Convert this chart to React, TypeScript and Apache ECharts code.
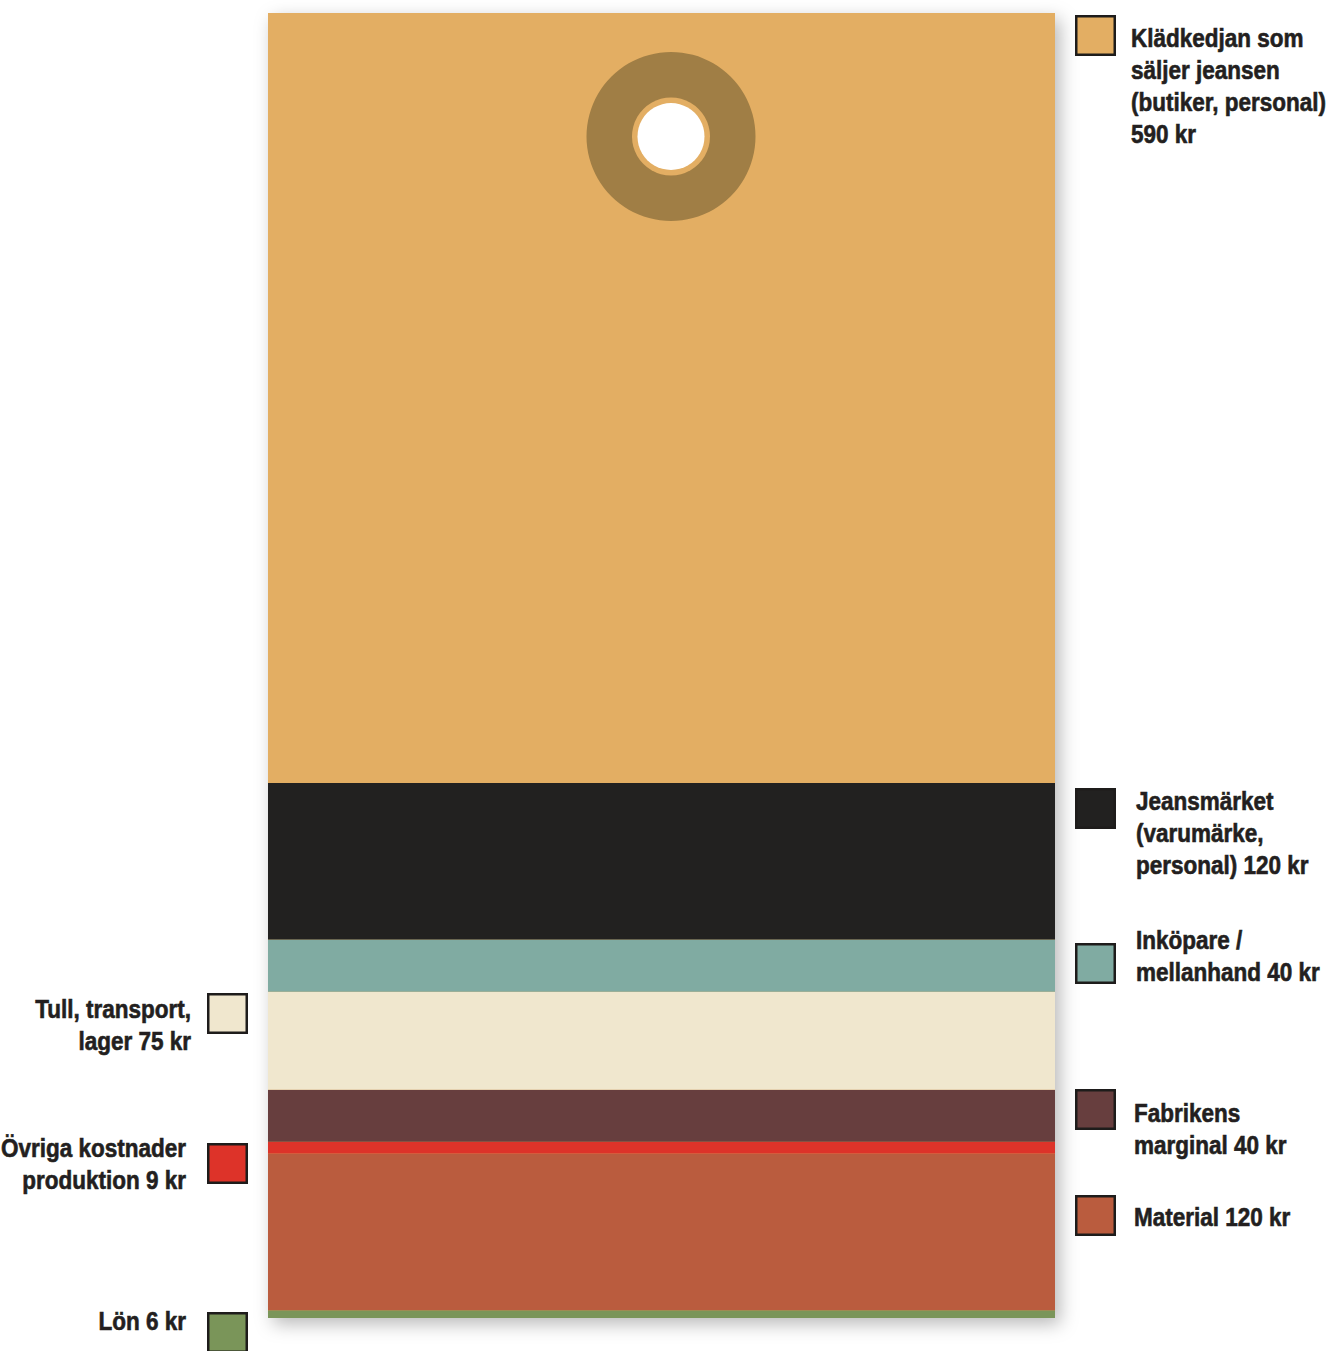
import React, { useEffect, useRef } from "react";
import * as echarts from "echarts";

// Cost breakdown of a pair of jeans (kr), stacked bottom → top
const categories = [
  "Lön",
  "Material",
  "Övriga kostnader produktion",
  "Fabrikens marginal",
  "Tull, transport, lager",
  "Inköpare / mellanhand",
  "Jeansmärket",
  "Klädkedjan",
];
const values = [6, 120, 9, 40, 75, 40, 120, 590];
const labelTexts = [
  "Lön 6 kr",
  "Material 120 kr",
  "Övriga kostnader\nproduktion 9 kr",
  "Fabrikens\nmarginal 40 kr",
  "Tull, transport,\nlager 75 kr",
  "Inköpare /\nmellanhand 40 kr",
  "Jeansmärket\n(varumärke,\npersonal) 120 kr",
  "Klädkedjan som\nsäljer jeansen\n(butiker, personal)\n590 kr",
];
const colors = [
  "#7A9559",
  "#BA5C3E",
  "#DD3329",
  "#673E3E",
  "#F0E7CE",
  "#80ABA2",
  "#222120",
  "#E3AE63",
];

// Legend layout (page pixels): box top-left, text x, text top, side
const legendLayout = [
  { box: [207, 1312], tx: 186, ty: 1305, side: "left" },
  { box: [1075, 1195], tx: 1134, ty: 1201, side: "right" },
  { box: [207, 1143], tx: 186, ty: 1132, side: "left" },
  { box: [1075, 1089], tx: 1134, ty: 1097, side: "right" },
  { box: [207, 993], tx: 191, ty: 993, side: "left" },
  { box: [1075, 943], tx: 1136, ty: 924, side: "right" },
  { box: [1075, 788], tx: 1136, ty: 785, side: "right" },
  { box: [1075, 15], tx: 1131, ty: 22, side: "right" },
];

const FONT = "'Liberation Sans', Arial, sans-serif";

export default function App() {
  const ref = useRef<HTMLDivElement>(null);

  useEffect(() => {
    document.body.style.margin = "0";
    if (!ref.current) return;
    const chart = echarts.init(ref.current, null, { renderer: "svg" });
    const total = values.reduce((a, b) => a + b, 0);

    const graphics: any[] = [];
    // tag hole
    graphics.push(
      { type: "circle", shape: { cx: 671, cy: 136.5, r: 84.5 }, style: { fill: "#A07E45" }, z: 100 },
      { type: "circle", shape: { cx: 671, cy: 136.5, r: 39 }, style: { fill: "#E3AE63" }, z: 101 },
      { type: "circle", shape: { cx: 671, cy: 136.5, r: 33.5 }, style: { fill: "#FFFFFF" }, z: 102 }
    );
    legendLayout.forEach((l, i) => {
      graphics.push({
        type: "rect",
        shape: { x: l.box[0] + 1.25, y: l.box[1] + 1.25, width: 38.5, height: 38.5 },
        style: { fill: colors[i], stroke: "#1E1C1B", lineWidth: 2.5 },
        z: 100,
      });
      graphics.push({
        type: "text",
        x: l.tx,
        y: l.ty,
        scaleX: 0.9,
        style: {
          text: labelTexts[i],
          fill: "#231F20",
          stroke: "#231F20",
          lineWidth: 0.6,
          fontFamily: FONT,
          fontWeight: "bold",
          fontSize: 25,
          lineHeight: 32,
          align: l.side === "left" ? "right" : "left",
          verticalAlign: "top",
        },
        z: 100,
      });
    });

    const series: any[] = [
      {
        name: "shadow",
        type: "bar",
        data: [total],
        barWidth: "100%",
        barGap: "-100%",
        silent: true,
        z: 1,
        itemStyle: {
          color: "#E3AE63",
          shadowColor: "rgba(0,0,0,0.28)",
          shadowBlur: 18,
          shadowOffsetX: 5,
          shadowOffsetY: 6,
        },
      },
      ...categories.map((c, i) => ({
        name: c,
        type: "bar",
        stack: "total",
        data: [values[i]],
        barWidth: "100%",
        barGap: "-100%",
        z: 2,
        itemStyle: { color: colors[i] },
      })),
    ];

    chart.setOption({
      animation: false,
      backgroundColor: "#FFFFFF",
      grid: { left: 268, right: 273, top: 13, bottom: 33 },
      xAxis: { type: "category", data: ["Jeans"], show: false, boundaryGap: true },
      yAxis: { type: "value", min: 0, max: 1000, show: false },
      series,
      graphic: graphics,
    });
    return () => chart.dispose();
  }, []);

  return <div ref={ref} style={{ width: 1328, height: 1351 }} />;
}
